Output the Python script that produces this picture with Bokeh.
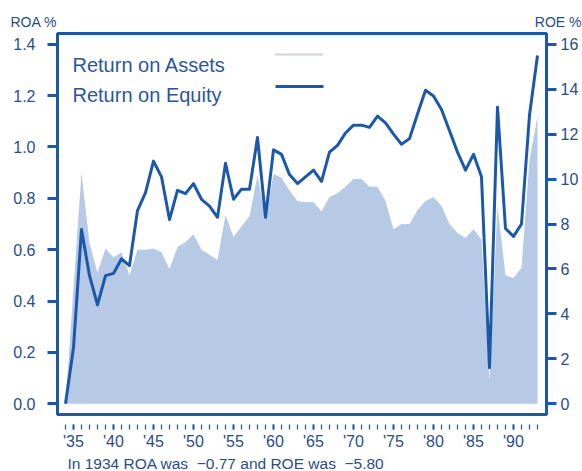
from bokeh.plotting import figure
from bokeh.models import Range1d, LinearAxis, FixedTicker, NumeralTickFormatter, Label, Arrow, Title
from bokeh.embed import file_html
from bokeh.resources import INLINE

# ---------------- data ----------------
years = list(range(1934, 1994))
roa = [0.00, 0.45, 0.90, 0.625, 0.51, 0.605, 0.57, 0.59, 0.50, 0.60,
       0.60, 0.605, 0.59, 0.525, 0.61, 0.63, 0.66, 0.60, 0.58, 0.56,
       0.735, 0.65, 0.69, 0.73, 0.89, 0.72, 0.895, 0.88, 0.83, 0.79,
       0.785, 0.785, 0.75, 0.805, 0.82, 0.845, 0.875, 0.875, 0.845, 0.845,
       0.79, 0.68, 0.70, 0.70, 0.755, 0.79, 0.805, 0.77, 0.70, 0.665,
       0.645, 0.68, 0.64, 0.09, 0.77, 0.50, 0.49, 0.53, 0.95, 1.12]
roe = [0.0, 2.5, 7.75, 5.7, 4.4, 5.7, 5.8, 6.45, 6.15, 8.6,
       9.4, 10.8, 10.1, 8.2, 9.5, 9.35, 9.8, 9.1, 8.8, 8.3,
       10.7, 9.1, 9.55, 9.55, 11.85, 8.3, 11.3, 11.1, 10.2, 9.8,
       10.1, 10.4, 9.9, 11.2, 11.5, 12.05, 12.4, 12.4, 12.3, 12.8,
       12.5, 12.0, 11.55, 11.8, 12.9, 13.95, 13.7, 13.1, 12.15, 11.2,
       10.4, 11.1, 10.1, 1.6, 13.2, 7.8, 7.45, 8.0, 12.85, 15.5]

roa_ticks = [0.0, 0.2, 0.4, 0.6, 0.8, 1.0, 1.2, 1.4]
roe_ticks = [0, 2, 4, 6, 8, 10, 12, 14, 16]
x_tick_years = [1935, 1940, 1945, 1950, 1955, 1960, 1965, 1970, 1975, 1980, 1985, 1990]
x_tick_labels = ["'35", "'40", "'45", "'50", "'55", "'60", "'65", "'70", "'75", "'80", "'85", "'90"]
x_minor_years = list(range(1934, 1994))

legend_labels = ["Return on Assets", "Return on Equity"]
axis_titles = ["ROA %", "ROE %"]
note_text = "In 1934 ROA was\u00a0 \u22120.77 and ROE was\u00a0 \u22125.80"

# ---------------- styles ----------------
BLUE = "#1c58aa"
AREA = "#b6c9e5"
TXT = "#2b4c8a"
LEG = "#2a56a0"
FONT = "Liberation Sans"

# both axis titles share one header line (left one at the far left, right one at the far right)
header = axis_titles[0] + "\u00a0" * 123 + axis_titles[1]

p = figure(width=582, height=471,
           x_range=Range1d(1933.0, 1994.125),
           y_range=Range1d(-0.042, 1.442),
           output_backend="svg", toolbar_location=None,
           min_border_left=57, min_border_right=36,
           min_border_top=33, min_border_bottom=49)
p.title = Title(text=header, align="left", offset=-47, standoff=7,
                text_font=FONT, text_font_size="14px", text_color=TXT,
                text_font_style="normal")
p.extra_y_ranges = {"roe": Range1d(-0.48, 16.48)}
p.grid.visible = False
p.outline_line_color = BLUE
p.outline_line_width = 3
p.background_fill_color = "white"
p.border_fill_color = "white"

p.varea(x=years, y1=0, y2=roa, fill_color=AREA)
p.line(x=years, y=roe, y_range_name="roe", line_color=BLUE, line_width=3,
       line_join="round")

# left axis
ya = p.yaxis[0]
ya.ticker = FixedTicker(ticks=roa_ticks)
ya.formatter = NumeralTickFormatter(format="0.0")
ya.axis_line_color = None
ya.major_tick_line_color = BLUE
ya.major_tick_line_width = 3
ya.major_tick_out = 10
ya.major_tick_in = 0
ya.minor_tick_line_color = None
ya.major_label_standoff = 12
ya.major_label_text_font = FONT
ya.major_label_text_font_size = "16px"
ya.major_label_text_color = TXT

# right axis
ra = LinearAxis(y_range_name="roe", ticker=FixedTicker(ticks=roe_ticks))
ra.axis_line_color = None
ra.major_tick_line_color = BLUE
ra.major_tick_line_width = 3
ra.major_tick_out = 10
ra.major_tick_in = 0
ra.minor_tick_line_color = None
ra.major_label_standoff = 4
ra.major_label_text_font = FONT
ra.major_label_text_font_size = "16px"
ra.major_label_text_color = TXT
p.add_layout(ra, "right")

# bottom axis
xa = p.xaxis[0]
xa.ticker = FixedTicker(ticks=x_tick_years, minor_ticks=x_minor_years)
xa.major_label_overrides = dict(zip(x_tick_years, x_tick_labels))
xa.axis_line_color = None
xa.major_tick_line_color = BLUE
xa.major_tick_line_width = 2
xa.major_tick_in = -10
xa.major_tick_out = 15
xa.minor_tick_line_color = BLUE
xa.minor_tick_line_width = 1.2
xa.minor_tick_in = -10
xa.minor_tick_out = 15
xa.major_label_standoff = 3
xa.major_label_text_font = FONT
xa.major_label_text_font_size = "16px"
xa.major_label_text_color = TXT

# legend (label then swatch)
p.add_layout(Label(x=15, y=350, x_units="screen", y_units="screen", text=legend_labels[0],
                   text_font=FONT, text_font_size="20px", text_color=LEG,
                   text_baseline="alphabetic"))
p.add_layout(Label(x=15, y=320, x_units="screen", y_units="screen", text=legend_labels[1],
                   text_font=FONT, text_font_size="20px", text_color=LEG,
                   text_baseline="alphabetic"))
p.add_layout(Arrow(start=None, end=None, x_start=218, y_start=360, x_end=266, y_end=360,
                   start_units="screen", end_units="screen",
                   line_color="#9ea8bb", line_width=2, line_dash="1 1"))
p.add_layout(Arrow(start=None, end=None, x_start=218, y_start=328, x_end=266, y_end=328,
                   start_units="screen", end_units="screen",
                   line_color=BLUE, line_width=3))

# footnote
p.add_layout(Title(text=note_text, align="left", offset=10, standoff=0,
                   text_font=FONT, text_font_size="15.5px", text_color=TXT,
                   text_font_style="normal"), "below")

open("out.html", "w").write(file_html(p, INLINE))
